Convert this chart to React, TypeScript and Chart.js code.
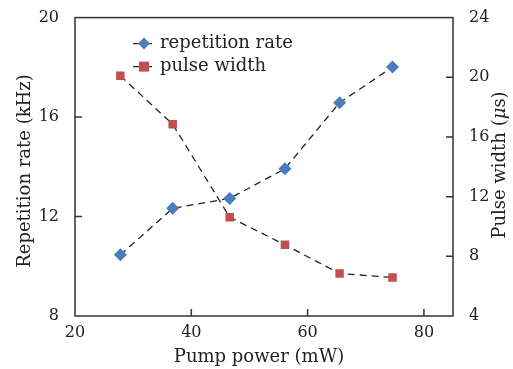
import React, { useEffect, useRef } from "react";
import { Chart, registerables } from "chart.js";

Chart.register(...registerables);

const pumpPower = [27.8, 36.8, 46.6, 56.1, 65.5, 74.6];
const repetitionRate = [10.46, 12.33, 12.73, 13.92, 16.58, 18.01];
const pulseWidth = [20.1, 16.85, 10.62, 8.77, 6.85, 6.58];
const xTicks = [20, 40, 60, 80];
const leftTicks = [8, 12, 16, 20];
const rightTicks = [4, 8, 12, 16, 20, 24];

const BLUE = "#4a7dba";
const RED = "#c0504d";
const INK = "#222";
const FONT = "'DejaVu Serif', serif";

const boxPlugin = {
  id: "boxTicks",
  beforeDatasetsDraw(chart: any) {
    const { ctx, chartArea: a, scales } = chart;
    ctx.save();
    ctx.strokeStyle = "#333";
    ctx.lineWidth = 1.5;
    ctx.strokeRect(a.left, a.top, a.right - a.left, a.bottom - a.top);
    const L = 7;
    ctx.beginPath();
    xTicks.forEach((v) => {
      const px = scales.x.getPixelForValue(v);
      if (px > a.left + 1 && px < a.right - 1) {
        ctx.moveTo(px, a.bottom);
        ctx.lineTo(px, a.bottom - L);
      }
    });
    leftTicks.forEach((v) => {
      const py = scales.y.getPixelForValue(v);
      if (py > a.top + 1 && py < a.bottom - 1) {
        ctx.moveTo(a.left, py);
        ctx.lineTo(a.left + L, py);
      }
    });
    rightTicks.forEach((v) => {
      const py = scales.y1.getPixelForValue(v);
      if (py > a.top + 1 && py < a.bottom - 1) {
        ctx.moveTo(a.right, py);
        ctx.lineTo(a.right - L, py);
      }
    });
    ctx.stroke();
    ctx.restore();
  },
  afterDraw(chart: any) {
    const { ctx, chartArea: a } = chart;
    ctx.save();
    ctx.fillStyle = INK;
    ctx.font = `18px ${FONT}`;
    ctx.textBaseline = "middle";
    // legend
    const lx0 = a.left + 58;
    const lx1 = a.left + 80;
    const rows = [
      { y: a.top + 26, label: "repetition rate", kind: "d" },
      { y: a.top + 49, label: "pulse width", kind: "s" },
    ];
    rows.forEach((r) => {
      ctx.strokeStyle = INK;
      ctx.lineWidth = 1.3;
      ctx.setLineDash([7, 5]);
      ctx.beginPath();
      ctx.moveTo(lx0, r.y);
      ctx.lineTo(lx1, r.y);
      ctx.stroke();
      ctx.setLineDash([]);
      const cx = (lx0 + lx1) / 2;
      if (r.kind === "d") {
        ctx.fillStyle = BLUE;
        ctx.beginPath();
        ctx.moveTo(cx, r.y - 6);
        ctx.lineTo(cx + 6, r.y);
        ctx.lineTo(cx, r.y + 6);
        ctx.lineTo(cx - 6, r.y);
        ctx.closePath();
        ctx.fill();
      } else {
        ctx.fillStyle = RED;
        ctx.fillRect(cx - 5, r.y - 5, 10, 10);
      }
      ctx.fillStyle = INK;
      ctx.textAlign = "left";
      ctx.fillText(r.label, lx1 + 5, r.y);
    });
    // axis titles
    ctx.textAlign = "center";
    ctx.fillText("Pump power (mW)", (a.left + a.right) / 2 - 5, 357);
    ctx.save();
    ctx.translate(25, 171);
    ctx.rotate(-Math.PI / 2);
    ctx.fillText("Repetition rate (kHz)", 0, 0);
    ctx.restore();
    ctx.save();
    ctx.translate(500, 165);
    ctx.rotate(-Math.PI / 2);
    const p1 = "Pulse width (";
    const p2 = "\u03bc";
    const p3 = "s)";
    ctx.font = `18px ${FONT}`;
    const w1 = ctx.measureText(p1).width;
    const w3 = ctx.measureText(p3).width;
    ctx.font = `italic 18px ${FONT}`;
    const w2 = ctx.measureText(p2).width;
    const total = w1 + w2 + w3;
    ctx.textAlign = "left";
    let x = -total / 2;
    ctx.font = `18px ${FONT}`;
    ctx.fillText(p1, x, 0);
    x += w1;
    ctx.font = `italic 18px ${FONT}`;
    ctx.fillText(p2, x, 0);
    x += w2;
    ctx.font = `18px ${FONT}`;
    ctx.fillText(p3, x, 0);
    ctx.restore();
    ctx.restore();
  },
};

export default function App() {
  const ref = useRef<HTMLCanvasElement | null>(null);
  useEffect(() => {
    if (!ref.current) return;
    const tickFont = { family: FONT, size: 16 };
    const chart = new Chart(ref.current, {
      type: "line",
      data: {
        datasets: [
          {
            label: "repetition rate",
            data: pumpPower.map((x, i) => ({ x, y: repetitionRate[i] })),
            yAxisID: "y",
            borderColor: INK,
            borderWidth: 1.3,
            borderDash: [7, 5],
            pointStyle: "rectRot",
            pointRadius: 6.5,
            pointBackgroundColor: BLUE,
            pointBorderColor: BLUE,
            pointBorderWidth: 0,
            fill: false,
          },
          {
            label: "pulse width",
            data: pumpPower.map((x, i) => ({ x, y: pulseWidth[i] })),
            yAxisID: "y1",
            borderColor: INK,
            borderWidth: 1.3,
            borderDash: [7, 5],
            pointStyle: "rect",
            pointRadius: 6,
            pointBackgroundColor: RED,
            pointBorderColor: RED,
            pointBorderWidth: 0,
            fill: false,
          },
        ],
      },
      options: {
        animation: false,
        responsive: true,
        maintainAspectRatio: false,
        layout: { padding: { top: 14, left: 0, right: 0, bottom: 0 } },
        plugins: { legend: { display: false }, tooltip: { enabled: false } },
        scales: {
          x: {
            type: "linear",
            min: 20,
            max: 85,
            grid: { display: false },
            border: { display: false },
            ticks: { stepSize: 20, padding: -1, font: tickFont, color: INK, maxRotation: 0 },
            afterBuildTicks: (s: any) => {
              s.ticks = xTicks.map((v) => ({ value: v }));
            },
            afterFit: (s: any) => {
              s.height = 53;
            },
          },
          y: {
            type: "linear",
            position: "left",
            min: 8,
            max: 20,
            grid: { display: false },
            border: { display: false },
            ticks: { stepSize: 4, padding: 8, font: tickFont, color: INK },
            afterBuildTicks: (s: any) => {
              s.ticks = leftTicks.map((v) => ({ value: v }));
            },
            afterFit: (s: any) => {
              s.width = 75;
            },
          },
          y1: {
            type: "linear",
            position: "right",
            min: 4,
            max: 24,
            grid: { display: false },
            border: { display: false },
            ticks: { stepSize: 4, padding: 8, font: tickFont, color: INK },
            afterBuildTicks: (s: any) => {
              s.ticks = rightTicks.map((v) => ({ value: v }));
            },
            afterFit: (s: any) => {
              s.width = 60;
            },
          },
        },
      },
      plugins: [boxPlugin],
    } as any);
    return () => chart.destroy();
  }, []);
  return (
    <div style={{ position: "absolute", left: 0, top: 0, width: 513, height: 369, background: "#fff" }}>
      <canvas ref={ref} />
    </div>
  );
}
